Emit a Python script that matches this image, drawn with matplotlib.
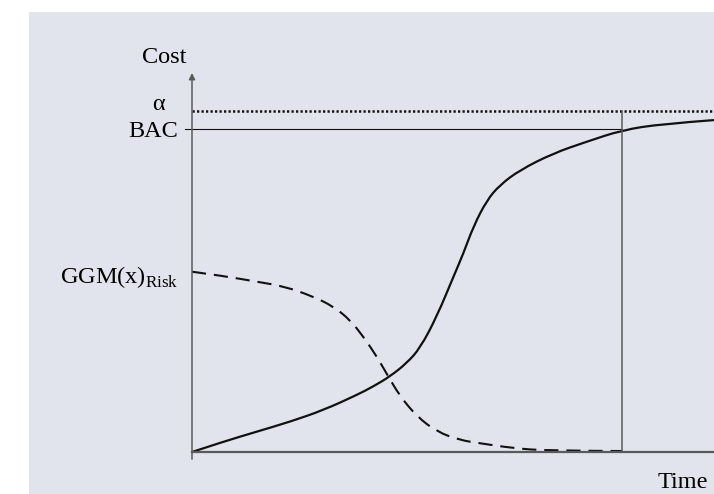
import matplotlib
matplotlib.use("Agg")
import matplotlib.pyplot as plt
from matplotlib.patches import Rectangle, PathPatch
from matplotlib.path import Path

plt.rcParams['font.family'] = ['Liberation Serif', 'DejaVu Serif']
plt.rcParams['mathtext.fontset'] = 'custom'
plt.rcParams['mathtext.rm'] = 'Liberation Serif'

# cumulative cost curve (S-curve), time 0..100, cost relative to BAC = 100
cost_t = [0, 6.0, 12.4, 18.8, 25.2, 31.6, 34.7, 37.9, 41.1, 43.7, 46.9,
          50.1, 52.0, 53.9, 56.5, 59.0, 62.8, 69.2, 75.6, 82.4, 90.0, 100]
cost_v = [0, 3.2, 6.3, 9.4, 13.0, 17.7, 20.3, 23.4, 27.5, 32.2, 42.0,
          54.4, 61.6, 69.9, 78.1, 82.8, 87.4, 92.6, 96.2, 99.8, 101.7, 102.9]

# GGM(x) risk curve
risk_t = [0, 5.9, 12.4, 17.8, 23.2, 27.1, 30.3, 32.8, 35.4, 37.6, 39.9, 43.1,
          46.9, 51.3, 55.2, 61.5, 68.0, 82.4]
risk_v = [55.9, 54.6, 52.8, 51.3, 48.2, 45.1, 40.9, 35.8, 29.6, 23.4, 17.2, 11.0,
          6.3, 3.7, 2.7, 1.2, 0.4, 0.3]

BAC = 100
alpha = 105.7
t_end = 82.4


def smooth_path(xs, ys):
    # quadratic bezier through midpoints, read points act as controls
    pts = list(zip(xs, ys))
    verts = [pts[0]]
    codes = [Path.MOVETO]
    for i in range(1, len(pts) - 2):
        mid = ((pts[i][0] + pts[i + 1][0]) / 2, (pts[i][1] + pts[i + 1][1]) / 2)
        verts += [pts[i], mid]
        codes += [Path.CURVE3, Path.CURVE3]
    verts += [pts[-2], pts[-1]]
    codes += [Path.CURVE3, Path.CURVE3]
    return Path(verts, codes)


W, H = 714, 494
fig = plt.figure(figsize=(W / 100, H / 100), dpi=100)
fig.patch.set_facecolor('white')
fig.add_artist(Rectangle((29 / W, 0), 1, 1 - 12 / H, transform=fig.transFigure,
                         facecolor='#e1e4ec', edgecolor='none', zorder=0))

ax = fig.add_axes([192 / W, (H - 452) / H, (W - 192) / W, (452 - 73) / H])
ax.set_xlim(0, 100)
ax.set_ylim(0, 117.5)
ax.patch.set_visible(False)
for s in ax.spines.values():
    s.set_visible(False)
ax.set_xticks([])
ax.set_yticks([])

axis_col = '#5a5a5a'
# axes
ax.plot([0, 100], [0, 0], color=axis_col, lw=1.6, clip_on=False)
ax.annotate('', xy=(0, 117.5), xytext=(0, -2.2),
            arrowprops=dict(arrowstyle='-|>', color=axis_col, lw=1.1,
                            mutation_scale=9, shrinkA=0, shrinkB=0),
            annotation_clip=False)

# reference lines
ax.plot([-1.3, t_end], [BAC, BAC], color='#111111', lw=0.8, clip_on=False)
dot, = ax.plot([0, 100], [alpha, alpha], color='#111111', lw=1.8, clip_on=False)
dot.set_dashes((0.9, 0.9))
ax.plot([t_end, t_end], [0, alpha], color=axis_col, lw=1.1, clip_on=False)

# curves
cost_patch = PathPatch(smooth_path(cost_t, cost_v), facecolor='none',
                       edgecolor='#111111', lw=1.6, clip_on=False)
ax.add_patch(cost_patch)
risk_patch = PathPatch(smooth_path(risk_t, risk_v), facecolor='none',
                       edgecolor='#111111', lw=1.5, clip_on=False,
                       linestyle=(0, (6.8, 3.8)))
ax.add_patch(risk_patch)

fs = 17.5
ax.text(-5.4, 120.6, 'Cost', fontsize=fs, ha='center', va='baseline')
ax.text(-6.5, 106.0, 'α', fontsize=fs, ha='center', va='baseline')
ax.text(-2.7, 97.7, 'BAC', fontsize=fs, ha='right', va='baseline')
ax.text(-2.7, 52.4, r'GGM(x)$_{\mathrm{Risk}}$', fontsize=fs, ha='right', va='baseline')
ax.text(94.0, -11.2, 'Time', fontsize=fs, ha='center', va='baseline')

fig.savefig('out.png', dpi=100)
